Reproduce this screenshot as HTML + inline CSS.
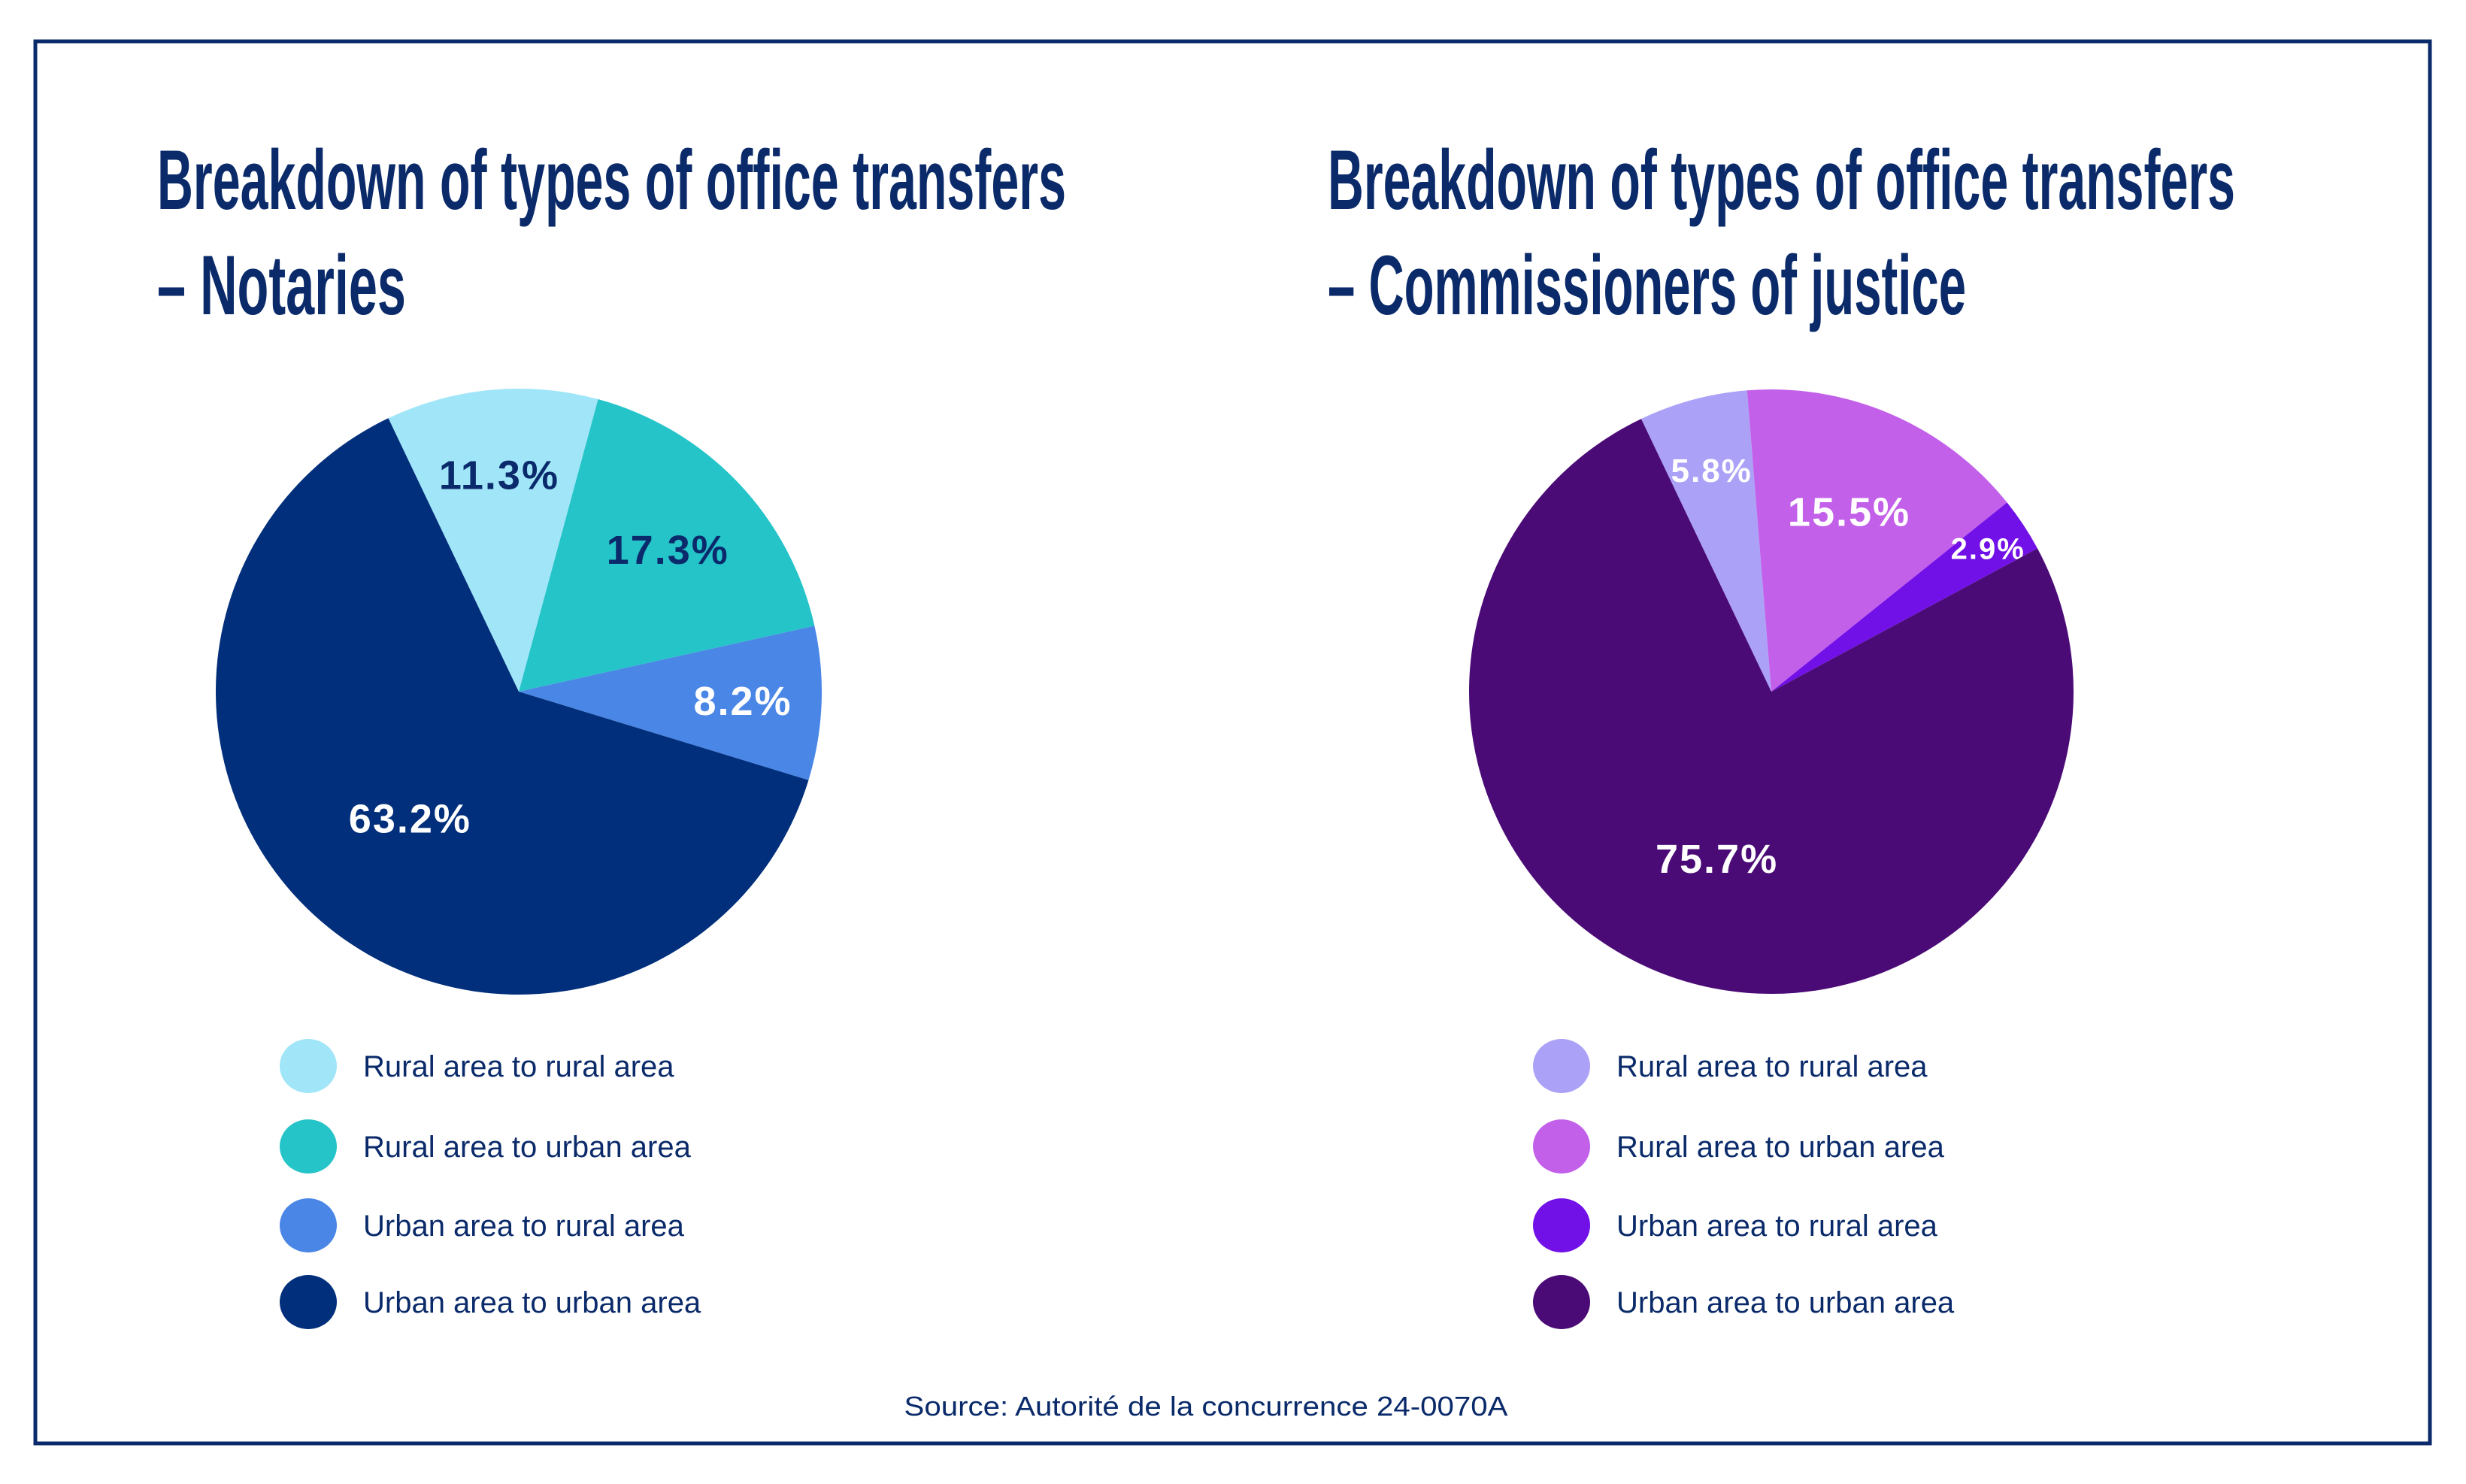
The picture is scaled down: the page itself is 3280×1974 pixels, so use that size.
<!DOCTYPE html>
<html><head><meta charset="utf-8"><style>
html,body{margin:0;padding:0;background:#fff}
svg{display:block}
text{font-family:"Liberation Sans",sans-serif}
</style></head><body>
<svg id="chart" width="3280" height="1974" viewBox="0 0 3280 1974" xmlns="http://www.w3.org/2000/svg">
<rect x="47" y="55" width="3185" height="1865" fill="#fff" stroke="#0b2a6b" stroke-width="5"/>
<g fill="#0a2a6a" font-weight="bold" font-size="112">
<text x="209" y="278" textLength="1209" lengthAdjust="spacingAndGlyphs">Breakdown of types of office transfers</text>
<text x="209" y="418" textLength="331" lengthAdjust="spacingAndGlyphs">– Notaries</text>
</g>
<g fill="#0a2a6a" font-weight="bold" font-size="112">
<text x="1766" y="278" textLength="1207" lengthAdjust="spacingAndGlyphs">Breakdown of types of office transfers</text>
<text x="1766" y="418" textLength="849" lengthAdjust="spacingAndGlyphs">– Commissioners of justice</text>
</g>
<g id="pies"></g>
<text x="1604" y="1883" text-anchor="middle" font-size="36" fill="#0a2a6a" textLength="803" lengthAdjust="spacingAndGlyphs">Source: Autorité de la concurrence 24-0070A</text>
</svg>
<script>
const categories = ["Rural area to rural area","Rural area to urban area","Urban area to rural area","Urban area to urban area"];
const notariesValues = [11.3, 17.3, 8.2, 63.2];
const justiceValues = [5.8, 15.5, 2.9, 75.7];
const notariesLabels = ["11.3%","17.3%","8.2%","63.2%"];
const justiceLabels = ["5.8%","15.5%","2.9%","75.7%"];
const notariesColors = ["#a0e6f8","#25c4c9","#4a86e6","#012f7b"];
const justiceColors = ["#aba1f7","#c360ea","#7210e8","#4b0b76"];

const NS = "http://www.w3.org/2000/svg";
const root = document.getElementById("pies");
function mk(tag, attrs, parent){const e=document.createElementNS(NS,tag);for(const k in attrs)e.setAttribute(k,attrs[k]);parent.appendChild(e);return e;}

function drawPie(name, cx, cy, r, values, labels, colors, labelColors, labelSizes, labelRad, legendX){
  const g = mk("g",{},root);
  
  
  const total = values.reduce((a,b)=>a+b,0);
  let a0 = -25.5*Math.PI/180;
  const pt=(a,rr)=>[cx+rr*Math.sin(a), cy-rr*Math.cos(a)];
  values.forEach((v,i)=>{
    const a1 = a0 + v/total*2*Math.PI;
    const p0=pt(a0,r), p1=pt(a1,r);
    const large = (a1-a0)>Math.PI?1:0;
    const p = mk("path",{d:`M${cx},${cy} L${p0[0]},${p0[1]} A${r},${r} 0 ${large} 1 ${p1[0]},${p1[1]} Z`, fill:colors[i]}, g);
    
    
    const mid=(a0+a1)/2, lp=pt(mid, r*labelRad[i]);
    const t = mk("text",{x:lp[0], y:lp[1]+labelSizes[i]*0.36, "text-anchor":"middle", "font-size":labelSizes[i], "font-weight":"bold", fill:labelColors[i], "letter-spacing":"2"}, g);
    t.textContent = labels[i];
    
    
    a0=a1;
  });
  const lg = mk("g",{},root);
  
  
  const ys=[1418,1525,1630,1732];
  categories.forEach((c,i)=>{
    const e = mk("g",{},lg);
    
    
    const m = mk("ellipse",{cx:legendX, cy:ys[i], rx:38, ry:36, fill:colors[i]}, e);
    
    
    const t = mk("text",{x:legendX+73, y:ys[i]+14, "font-size":40, fill:"#0a2a6a"}, e);
    t.textContent=c;
    
    
  });
}
drawPie("notaries", 690, 920, 403, notariesValues, notariesLabels, notariesColors,
  ["#0b2a6b","#0b2a6b","#ffffff","#ffffff"], [54,54,54,54], [0.72,0.68,0.74,0.55], 410);
drawPie("justice", 2356, 920, 402, justiceValues, justiceLabels, justiceColors,
  ["#ffffff","#ffffff","#ffffff","#ffffff"], [44,54,40,54], [0.76,0.65,0.86,0.58], 2077);
</script>
</body></html>
